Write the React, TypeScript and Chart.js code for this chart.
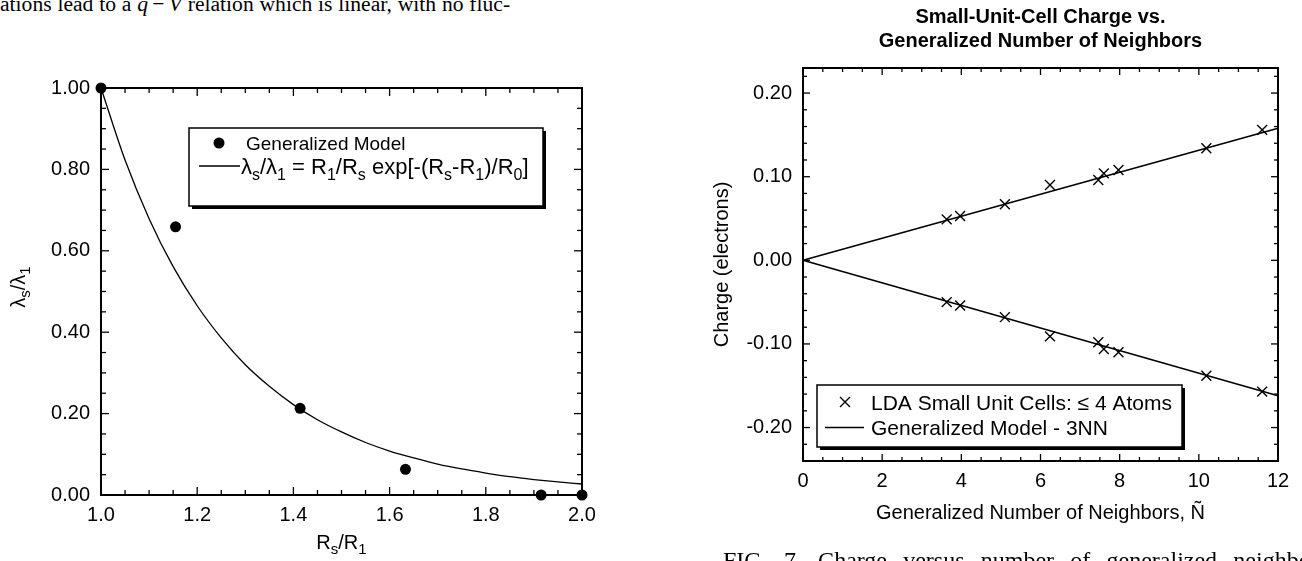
import React, { useEffect, useRef } from 'react';
import { Chart, registerables } from 'chart.js';

Chart.register(...registerables);

const SANS = '"Liberation Sans", Arial, Helvetica, sans-serif';
const SERIF = '"Liberation Serif", "Times New Roman", serif';

// ---------------- Left figure data ----------------
const leftRatio = [1.0, 1.155, 1.414, 1.633, 1.915, 2.0];
const leftLambda = [1.0, 0.659, 0.213, 0.063, 0.0, 0.0];
const curveRatio = [1.0, 1.05, 1.1, 1.15, 1.2, 1.25, 1.3, 1.35, 1.4, 1.45, 1.5, 1.55, 1.6, 1.65, 1.7, 1.75, 1.8, 1.85, 1.9, 1.95, 2.0];
const curveLambda = [1.0, 0.823, 0.679, 0.561, 0.465, 0.386, 0.32, 0.267, 0.222, 0.185, 0.155, 0.129, 0.108, 0.091, 0.076, 0.064, 0.054, 0.045, 0.038, 0.032, 0.027];
const leftXTicks = [1.0, 1.2, 1.4, 1.6, 1.8, 2.0];
const leftXLabels = ['1.0', '1.2', '1.4', '1.6', '1.8', '2.0'];
const leftYTicks = [0, 0.2, 0.4, 0.6, 0.8, 1.0];
const leftYLabels = ['0.00', '0.20', '0.40', '0.60', '0.80', '1.00'];

// ---------------- Right figure data ----------------
const nTilde = [3.63, 3.97, 5.1, 6.24, 7.46, 7.6, 7.97, 10.19, 11.6];
const chargePlus = [0.049, 0.053, 0.067, 0.09, 0.096, 0.104, 0.108, 0.134, 0.156];
const chargeMinus = [-0.05, -0.054, -0.068, -0.091, -0.098, -0.106, -0.11, -0.138, -0.157];
const modelN = [0, 12];
const modelPlus = [0, 0.158];
const modelMinus = [0, -0.162];
const rightXTicks = [0, 2, 4, 6, 8, 10, 12];
const rightXLabels = ['0', '2', '4', '6', '8', '10', '12'];
const rightYTicks = [-0.2, -0.1, 0.0, 0.1, 0.2];
const rightYLabels = ['-0.20', '-0.10', '0.00', '0.10', '0.20'];

// ---------------- Texts ----------------
type Seg = [string, boolean?];
const leftXTitle: Seg[] = [['R'], ['s', true], ['/R'], ['1', true]];
const leftYTitle: Seg[] = [['λ'], ['s', true], ['/λ'], ['1', true]];
const leftLegend1: Seg[] = [['Generalized Model']];
const leftLegend2: Seg[] = [['λ'], ['s', true], ['/λ'], ['1', true], [' = R'], ['1', true], ['/R'], ['s', true], [' exp[-(R'], ['s', true], ['-R'], ['1', true], [')/R'], ['0', true], [']']];
const rightTitle = ['Small-Unit-Cell Charge vs.', 'Generalized Number of Neighbors'];
const rightXTitle = 'Generalized Number of Neighbors, Ñ';
const rightYTitle = 'Charge (electrons)';
const rightLegend1: Seg[] = [['LDA Small Unit Cells: ≤ 4 Atoms']];
const rightLegend2: Seg[] = [['Generalized Model - 3NN']];

const pts = (xs: number[], ys: number[]) => xs.map((x, i) => ({ x, y: ys[i] }));

function drawRich(ctx: CanvasRenderingContext2D, segs: Seg[], x: number, y: number, size: number, align: 'left' | 'center') {
  const main = `${size}px ${SANS}`;
  const sub = `${Math.round(size * 0.74)}px ${SANS}`;
  ctx.textAlign = 'left';
  ctx.textBaseline = 'alphabetic';
  let total = 0;
  const widths: number[] = [];
  for (const [t, s] of segs) {
    ctx.font = s ? sub : main;
    const w = ctx.measureText(t).width;
    widths.push(w);
    total += w;
  }
  let cx = align === 'center' ? x - total / 2 : x;
  segs.forEach(([t, s], i) => {
    ctx.font = s ? sub : main;
    ctx.fillText(t, cx, s ? y + size * 0.27 : y);
    cx += widths[i];
  });
}

const frameTicksPlugin = {
  id: 'frameTicks',
  beforeDatasetsDraw(chart: any, _a: any, o: any) {
    const { ctx, chartArea: a, scales } = chart;
    const xs = scales.x;
    const ys = scales.y;
    ctx.save();
    ctx.strokeStyle = '#000';
    ctx.lineWidth = o.tickWidth;
    const line = (x0: number, y0: number, x1: number, y1: number) => {
      ctx.beginPath();
      ctx.moveTo(x0, y0);
      ctx.lineTo(x1, y1);
      ctx.stroke();
    };
    const isMajor = (v: number, majors: number[]) => majors.some((m) => Math.abs(m - v) < 1e-6);
    const minorVals = (min: number, max: number, step: number) => {
      const out: number[] = [];
      const n0 = Math.ceil(min / step - 1e-6);
      const n1 = Math.floor(max / step + 1e-6);
      for (let i = n0; i <= n1; i++) out.push(i * step);
      return out;
    };
    const xTick = (v: number, len: number) => {
      const p = xs.getPixelForValue(v);
      line(p, a.bottom, p, a.bottom - len);
      line(p, a.top, p, a.top + len);
    };
    const yTick = (v: number, len: number) => {
      const p = ys.getPixelForValue(v);
      line(a.left, p, a.left + len, p);
      line(a.right, p, a.right - len, p);
    };
    minorVals(xs.min, xs.max, o.xMinor).forEach((v) => { if (!isMajor(v, o.xMajor)) xTick(v, o.minorLen); });
    minorVals(ys.min, ys.max, o.yMinor).forEach((v) => { if (!isMajor(v, o.yMajor)) yTick(v, o.minorLen); });
    o.xMajor.forEach((v: number) => xTick(v, o.majorLen));
    o.yMajor.forEach((v: number) => yTick(v, o.majorLen));
    ctx.lineWidth = o.frameWidth;
    ctx.strokeRect(a.left, a.top, a.right - a.left, a.bottom - a.top);
    ctx.restore();
  },
};

const boxLegendPlugin = {
  id: 'boxLegend',
  afterDatasetsDraw(chart: any, _a: any, o: any) {
    const ctx = chart.ctx as CanvasRenderingContext2D;
    const b = o.box;
    ctx.save();
    ctx.fillStyle = '#000';
    ctx.fillRect(b.x + 3, b.y + 3, b.w, b.h);
    ctx.fillStyle = '#fff';
    ctx.fillRect(b.x, b.y, b.w, b.h);
    ctx.strokeStyle = '#000';
    ctx.lineWidth = 1.5;
    ctx.strokeRect(b.x, b.y, b.w, b.h);
    ctx.fillStyle = '#000';
    o.rows.forEach((r: any) => {
      const ds = chart.data.datasets[r.datasetIndex];
      if (r.marker === 'dot') {
        ctx.beginPath();
        ctx.arc(r.mx, r.y, ds.pointRadius, 0, Math.PI * 2);
        ctx.fill();
      } else if (r.marker === 'x') {
        const d = r.size;
        ctx.lineWidth = ds.pointBorderWidth;
        ctx.beginPath();
        ctx.moveTo(r.mx - d, r.y - d);
        ctx.lineTo(r.mx + d, r.y + d);
        ctx.moveTo(r.mx - d, r.y + d);
        ctx.lineTo(r.mx + d, r.y - d);
        ctx.stroke();
      } else {
        ctx.lineWidth = ds.borderWidth;
        ctx.beginPath();
        ctx.moveTo(r.lx0, r.y);
        ctx.lineTo(r.lx1, r.y);
        ctx.stroke();
      }
      drawRich(ctx, r.segs, r.tx, r.y + r.font * 0.36, r.font, 'left');
    });
    ctx.restore();
  },
};

const richTitlesPlugin = {
  id: 'richTitles',
  afterDraw(chart: any, _a: any, o: any) {
    const ctx = chart.ctx as CanvasRenderingContext2D;
    const a = chart.chartArea;
    ctx.save();
    ctx.fillStyle = '#000';
    drawRich(ctx, o.x.segs, (a.left + a.right) / 2, o.x.baseline, o.x.size, 'center');
    ctx.translate(o.y.baseline, o.y.center);
    ctx.rotate(-Math.PI / 2);
    drawRich(ctx, o.y.segs, 0, 0, o.y.size, 'center');
    ctx.restore();
  },
};

function LeftChart() {
  const ref = useRef<HTMLCanvasElement>(null);
  useEffect(() => {
    if (!ref.current) return;
    const tickFont = { family: SANS, size: 20 };
    const chart = new Chart(ref.current, {
      type: 'scatter',
      data: {
        datasets: [
          {
            label: 'Generalized Model',
            data: pts(leftRatio, leftLambda),
            showLine: false,
            pointStyle: 'circle',
            pointRadius: 5.5,
            pointBackgroundColor: '#000',
            pointBorderColor: '#000',
            pointBorderWidth: 0,
            clip: false,
          } as any,
          {
            label: 'λs/λ1 = R1/Rs exp[-(Rs-R1)/R0]',
            data: pts(curveRatio, curveLambda),
            showLine: true,
            pointRadius: 0,
            borderColor: '#000',
            borderWidth: 1.3,
            cubicInterpolationMode: 'monotone',
            clip: false,
          } as any,
        ],
      },
      options: {
        responsive: false,
        animation: false,
        events: [],
        layout: { padding: { top: 88, right: 69, left: 0, bottom: 0 } },
        plugins: {
          legend: { display: false },
          tooltip: { enabled: false },
          frameTicks: { xMajor: leftXTicks, yMajor: leftYTicks, xMinor: 0.05, yMinor: 0.05, majorLen: 8, minorLen: 5, frameWidth: 2, tickWidth: 1.3 },
          boxLegend: {
            box: { x: 189, y: 128, w: 354, h: 78 },
            rows: [
              { datasetIndex: 0, marker: 'dot', mx: 219, y: 143, tx: 246, segs: leftLegend1, font: 19 },
              { datasetIndex: 1, marker: 'line', lx0: 199, lx1: 240, y: 166, tx: 241, segs: leftLegend2, font: 22 },
            ],
          },
          richTitles: {
            x: { segs: leftXTitle, baseline: 549, size: 20 },
            y: { segs: leftYTitle, baseline: 25, center: 287, size: 20 },
          },
        } as any,
        scales: {
          x: {
            type: 'linear',
            min: 1,
            max: 2,
            afterBuildTicks: (s: any) => { s.ticks = leftXTicks.map((v) => ({ value: v })); },
            afterFit: (s: any) => { s.height = 66; },
            grid: { display: false, drawTicks: false },
            border: { display: false },
            ticks: { color: '#000', font: tickFont, padding: 8, autoSkip: false, maxRotation: 0, callback: (_v: any, i: number) => leftXLabels[i] },
          },
          y: {
            type: 'linear',
            min: 0,
            max: 1,
            afterBuildTicks: (s: any) => { s.ticks = leftYTicks.map((v) => ({ value: v })); },
            afterFit: (s: any) => { s.width = 101; },
            grid: { display: false, drawTicks: false },
            border: { display: false },
            ticks: { color: '#000', font: tickFont, padding: 11, autoSkip: false, callback: (_v: any, i: number) => leftYLabels[i] },
          },
        },
      },
      plugins: [frameTicksPlugin, boxLegendPlugin, richTitlesPlugin],
    });
    return () => chart.destroy();
  }, []);
  return <canvas ref={ref} width={651} height={561} style={{ position: 'absolute', left: 0, top: 0, display: 'block' }} />;
}

function RightChart() {
  const ref = useRef<HTMLCanvasElement>(null);
  useEffect(() => {
    if (!ref.current) return;
    const tickFont = { family: SANS, size: 20 };
    const cross = { showLine: false, pointStyle: 'crossRot', pointRadius: 7, pointBorderColor: '#000', pointBorderWidth: 1.4, clip: false };
    const model = { showLine: true, pointRadius: 0, borderColor: '#000', borderWidth: 1.6, clip: false };
    const chart = new Chart(ref.current, {
      type: 'scatter',
      data: {
        datasets: [
          { label: 'LDA Small Unit Cells: ≤ 4 Atoms', data: pts(nTilde, chargePlus), ...cross } as any,
          { label: 'LDA Small Unit Cells: ≤ 4 Atoms (anion)', data: pts(nTilde, chargeMinus), ...cross } as any,
          { label: 'Generalized Model - 3NN', data: pts(modelN, modelPlus), ...model } as any,
          { label: 'Generalized Model - 3NN (anion)', data: pts(modelN, modelMinus), ...model } as any,
        ],
      },
      options: {
        responsive: false,
        animation: false,
        events: [],
        layout: { padding: { top: 0, right: 24, left: 0, bottom: 0 } },
        plugins: {
          legend: { display: false },
          tooltip: { enabled: false },
          title: {
            display: true,
            text: rightTitle,
            fullSize: false,
            color: '#000',
            font: { family: SANS, size: 20, weight: 'bold', lineHeight: 1.2 },
            padding: { top: 5, bottom: 15 },
          },
          frameTicks: { xMajor: rightXTicks, yMajor: rightYTicks, xMinor: 0.5, yMinor: 0.02, majorLen: 7, minorLen: 4, frameWidth: 2, tickWidth: 1.3 },
          boxLegend: {
            box: { x: 166, y: 385, w: 365, h: 62 },
            rows: [
              { datasetIndex: 0, marker: 'x', size: 5, mx: 194, y: 402, tx: 220, segs: rightLegend1, font: 21 },
              { datasetIndex: 2, marker: 'line', lx0: 174, lx1: 213, y: 427.5, tx: 220, segs: rightLegend2, font: 21 },
            ],
          },
        } as any,
        scales: {
          x: {
            type: 'linear',
            min: 0,
            max: 12,
            afterBuildTicks: (s: any) => { s.ticks = rightXTicks.map((v) => ({ value: v })); },
            afterFit: (s: any) => { s.height = 100; },
            grid: { display: false, drawTicks: false },
            border: { display: false },
            ticks: { color: '#000', font: tickFont, padding: 8, autoSkip: false, maxRotation: 0, callback: (_v: any, i: number) => rightXLabels[i] },
            title: { display: true, text: rightXTitle, color: '#000', font: { family: SANS, size: 20, lineHeight: 1.2 }, padding: { top: 0, bottom: 36 } },
          },
          y: {
            type: 'linear',
            min: -0.24,
            max: 0.23,
            afterBuildTicks: (s: any) => { s.ticks = rightYTicks.map((v) => ({ value: v })); },
            afterFit: (s: any) => { s.width = 152; },
            grid: { display: false, drawTicks: false },
            border: { display: false },
            ticks: { color: '#000', font: tickFont, padding: 11, autoSkip: false, callback: (_v: any, i: number) => rightYLabels[i] },
            title: { display: true, text: rightYTitle, color: '#000', font: { family: SANS, size: 20, lineHeight: 1.2 }, padding: { top: 59, bottom: 0 } },
          },
        },
      },
      plugins: [frameTicksPlugin, boxLegendPlugin],
    });
    return () => chart.destroy();
  }, []);
  return <canvas ref={ref} width={651} height={561} style={{ position: 'absolute', left: 651, top: 0, display: 'block' }} />;
}

export default function App() {
  return (
    <div style={{ position: 'absolute', left: 0, top: 0, width: 1302, height: 561, overflow: 'hidden', background: '#fff' }}>
      <div
        style={{
          position: 'absolute',
          left: 0,
          top: -7,
          fontFamily: SERIF,
          fontSize: 21.6,
          lineHeight: '22px',
          whiteSpace: 'nowrap',
          wordSpacing: 0.4,
          color: '#000',
        }}
      >
        ations lead to a <i>q</i>&thinsp;−&thinsp;<i>V</i> relation which is linear, with no fluc-
      </div>
      <LeftChart />
      <RightChart />
      <div
        style={{
          position: 'absolute',
          left: 723,
          top: 548,
          width: 605,
          fontFamily: SERIF,
          fontSize: 24,
          lineHeight: '24px',
          textAlign: 'justify',
          textAlignLast: 'justify',
          whiteSpace: 'nowrap',
          color: '#000',
        }}
      >
        FIG. 7. Charge versus number of generalized neighbors
      </div>
    </div>
  );
}
